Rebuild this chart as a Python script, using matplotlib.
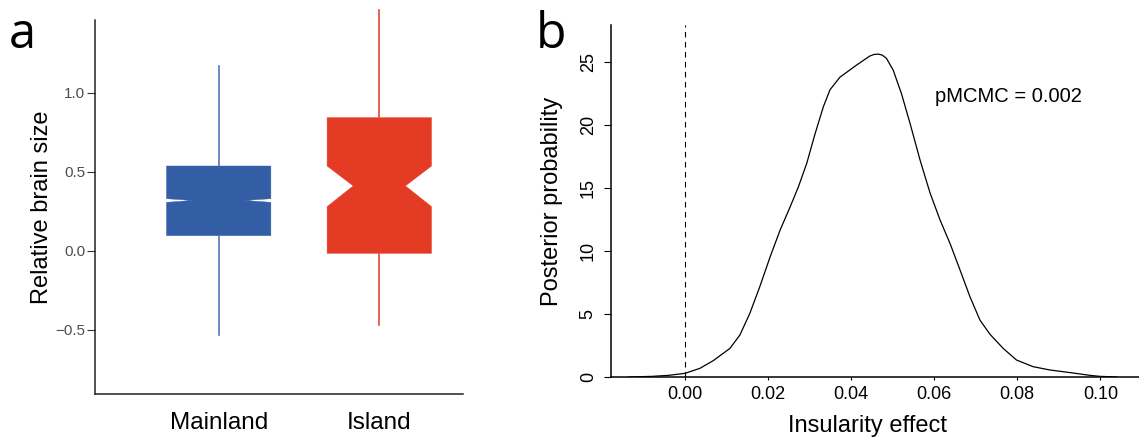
import numpy as np
import matplotlib
matplotlib.use("Agg")
import matplotlib.pyplot as plt

plt.rcParams["font.family"] = ["Liberation Sans", "DejaVu Sans"]

# panel a: box statistics
groups = ["Mainland", "Island"]
q1 = [0.095, -0.017]
median = [0.318, 0.41]
q3 = [0.536, 0.842]
whisker_lo = [-0.534, -0.47]
whisker_hi = [1.171, 1.523]
notch_lo = [0.306, 0.279]
notch_hi = [0.329, 0.536]
box_colors = ["#335EA6", "#E33B24"]
whisker_colors = ["#5577B8", "#E34A36"]

# panel b: posterior density of the insularity effect
effect = [-0.0135, -0.008, -0.004, 0.0, 0.0036, 0.0068, 0.0108, 0.0132,
          0.0156, 0.018, 0.0205, 0.0229, 0.0253, 0.0273, 0.0293, 0.0313,
          0.0333, 0.0349, 0.0373, 0.0413, 0.0445, 0.0455, 0.0465, 0.0475,
          0.0485, 0.0501, 0.0521, 0.0542, 0.0566, 0.059, 0.0614, 0.0638,
          0.0662, 0.0686, 0.071, 0.0734, 0.0766, 0.0798, 0.0838, 0.0878,
          0.0927, 0.0975, 0.0999, 0.104]
density = [0.0, 0.05, 0.13, 0.29, 0.69, 1.3, 2.27, 3.33,
           5.05, 7.17, 9.55, 11.67, 13.5, 15.1, 16.96, 19.3,
           21.45, 22.8, 23.8, 24.76, 25.48, 25.6, 25.63, 25.55,
           25.29, 24.37, 22.5, 20.1, 17.2, 14.6, 12.46, 10.6,
           8.5, 6.37, 4.52, 3.4, 2.27, 1.35, 0.82, 0.56,
           0.35, 0.13, 0.05, 0.0]
p_mcmc = 0.002

W, H = 1139, 443
fig = plt.figure(figsize=(W / 100, H / 100), dpi=100)

# ---- panel a ----
ax = fig.add_axes([95 / W, 1 - 394 / H, (463 - 95) / W, (394 - 20) / H])
stats = []
for i in range(len(groups)):
    stats.append(dict(med=median[i], q1=q1[i], q3=q3[i], whislo=whisker_lo[i],
                      whishi=whisker_hi[i], cilo=notch_lo[i], cihi=notch_hi[i],
                      fliers=[], label=groups[i]))
bp = ax.bxp(stats, positions=[1, 2], widths=0.65, shownotches=True,
            patch_artist=True, showcaps=False, showfliers=False,
            medianprops=dict(linewidth=0))
for i, c in enumerate(box_colors):
    bp["boxes"][i].set_facecolor(c)
    bp["boxes"][i].set_edgecolor(c)
    bp["boxes"][i].set_linewidth(0.3)
    for w in bp["whiskers"][2 * i:2 * i + 2]:
        w.set_color(whisker_colors[i])
        w.set_linewidth(1.2)
        w.set_clip_on(False)

ax.set_xlim(0.23, 2.521)
ax.set_ylim(-0.907, 1.46)
ax.set_yticks([-0.5, 0.0, 0.5, 1.0])
ax.set_yticklabels(["\u22120.5", "0.0", "0.5", "1.0"])
for s in ["top", "right"]:
    ax.spines[s].set_visible(False)
for s in ["left", "bottom"]:
    ax.spines[s].set_color("#222222")
    ax.spines[s].set_linewidth(1.1)
ax.tick_params(axis="y", length=5.5, width=0.8, color="#333333", pad=1.5,
               labelsize=11, labelcolor="#4D4D4D")
ax.tick_params(axis="x", length=0, pad=13, labelsize=17.5)
fig.text(42 / W, 1 - 207 / H, "Relative brain size", rotation=90,
         ha="center", va="center", fontsize=17)
fig.text(9 / W, 1 - 48 / H, "a", fontsize=35, va="baseline",
         family=["Open Sans", "DejaVu Sans"])

# ---- panel b ----
bx = fig.add_axes([610.7 / W, 1 - 377 / H, (W - 610.7) / W, (377 - 25) / H])
bx.plot(effect, density, color="black", linewidth=0.9)
bx.axvline(0, color="black", linewidth=0.8, linestyle=(0, (5, 4)))
bx.set_xlim(-0.0179, 0.1093)
bx.set_ylim(0, 27.94)
bx.set_xticks([0.0, 0.02, 0.04, 0.06, 0.08, 0.10])
bx.set_xticklabels(["0.00", "0.02", "0.04", "0.06", "0.08", "0.10"])
bx.set_yticks([0, 5, 10, 15, 20, 25])
for s in ["top", "right"]:
    bx.spines[s].set_visible(False)
for s in ["left", "bottom"]:
    bx.spines[s].set_linewidth(1.1)
bx.tick_params(axis="x", length=2.5, width=0.8, pad=4, labelsize=13)
bx.tick_params(axis="y", length=5, width=0.8, pad=5, labelsize=13,
               labelrotation=90)
for lab in bx.get_yticklabels():
    lab.set_va("center")
bx.text(0.0602, 22.25, "pMCMC = %.3f" % p_mcmc, ha="left", va="center",
        fontsize=14.5)
fig.text(868 / W, 1 - 426 / H, "Insularity effect", ha="center", va="center",
         fontsize=17)
fig.text(552 / W, 1 - 201 / H, "Posterior probability", rotation=90,
         ha="center", va="center", fontsize=17)
fig.text(536 / W, 1 - 48 / H, "b", fontsize=36, va="baseline",
         family=["Open Sans", "DejaVu Sans"])

fig.savefig("out.png", dpi=100)
